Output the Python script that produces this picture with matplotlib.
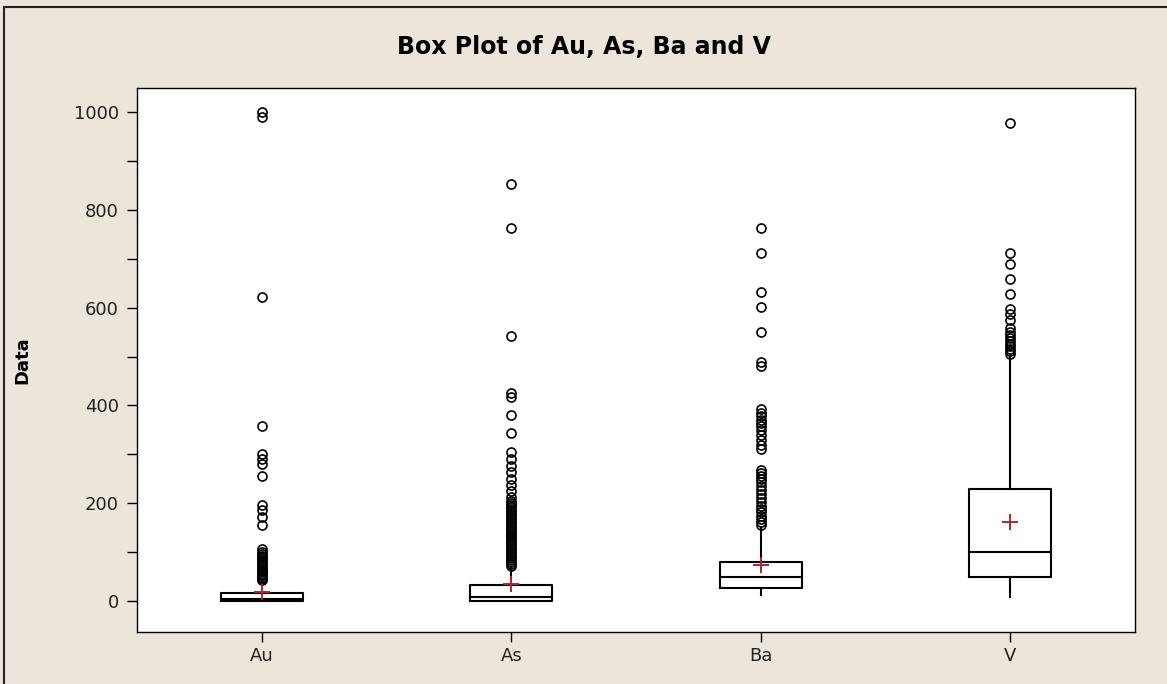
import matplotlib.pyplot as plt
from matplotlib.lines import Line2D

# summary statistics per element
labels = ['Au', 'As', 'Ba', 'V']
q1 = [1, 1, 27, 50]
med = [4, 9, 50, 100]
q3 = [17, 32, 80, 230]
whislo = [0, 0, 12, 8]
whishi = [40, 68, 150, 500]
means = [18, 35, 73, 162]

fliers_au = [1000, 990, 622, 357, 300, 291, 280, 255, 196, 186, 171, 155,
             106, 101, 97, 93, 89, 85, 81, 77, 73, 69, 65, 62, 59, 56, 53,
             50, 48, 46, 44, 42]
fliers_as = [853, 762, 542, 425, 418, 380, 344, 304, 290, 276, 263, 250,
             237, 224, 212, 205, 200, 196, 192, 188, 184, 180, 176, 172,
             168, 164, 160, 156, 152, 148, 144, 140, 136, 132, 128, 124,
             120, 116, 112, 108, 104, 100, 96, 92, 88, 84, 80, 76, 72]
fliers_ba = [762, 712, 632, 602, 550, 488, 480, 392, 385, 378, 371, 364,
             357, 350, 340, 330, 320, 310, 268, 262, 256, 250, 243, 235,
             226, 218, 210, 202, 195, 188, 181, 174, 168, 162, 156]
fliers_v = [978, 712, 690, 658, 628, 598, 586, 574, 558, 550, 543, 537,
            531, 526, 521, 516, 511, 506]
fliers = [fliers_au, fliers_as, fliers_ba, fliers_v]

stats = []
for i in range(len(labels)):
    stats.append(dict(label=labels[i], q1=q1[i], med=med[i], q3=q3[i],
                      whislo=whislo[i], whishi=whishi[i], mean=means[i],
                      fliers=fliers[i]))

bg = '#ECE5DA'
fig = plt.figure(figsize=(11.67, 6.84), dpi=100, facecolor=bg)
ax = fig.add_axes([0.1174, 0.0760, 0.8552, 0.7953])
ax.set_facecolor('white')

ax.bxp(stats, widths=0.33, showcaps=False, showmeans=True, patch_artist=False,
       boxprops=dict(color='black', linewidth=1.5),
       whiskerprops=dict(color='black', linewidth=1.5),
       medianprops=dict(color='black', linewidth=1.5),
       meanprops=dict(marker='+', markeredgecolor='#A52A35', markersize=11,
                      markeredgewidth=1.4),
       flierprops=dict(marker='o', markerfacecolor='none',
                       markeredgecolor='black', markersize=6.5,
                       markeredgewidth=1.2))

ax.set_xlim(0.5, 4.5)
ax.set_ylim(-63.4, 1049)
ax.set_yticks(range(0, 1001, 200))
ax.set_yticks(range(100, 1000, 200), minor=True)
ax.tick_params(axis='both', which='both', direction='out', length=7,
               width=1, labelsize=13, color='black', labelcolor='#222222')
ax.tick_params(axis='y', pad=6)
ax.tick_params(axis='x', pad=4)
for s in ax.spines.values():
    s.set_linewidth(1.0)

ax.set_ylabel('Data', fontsize=13, fontweight='bold')
ax.yaxis.set_label_coords(-0.106, 0.5)
fig.text(0.5, 0.931, 'Box Plot of Au, As, Ba and V', fontsize=17,
         fontweight='bold', ha='center', va='center')

# outer frame on the left and top
fig.add_artist(Line2D([0.003, 0.003], [0.0, 0.990], transform=fig.transFigure,
                      color='#222222', linewidth=1.5))
fig.add_artist(Line2D([0.003, 1.0], [0.990, 0.990], transform=fig.transFigure,
                      color='#222222', linewidth=1.5))

fig.savefig('out.png', dpi=100, facecolor=bg)
